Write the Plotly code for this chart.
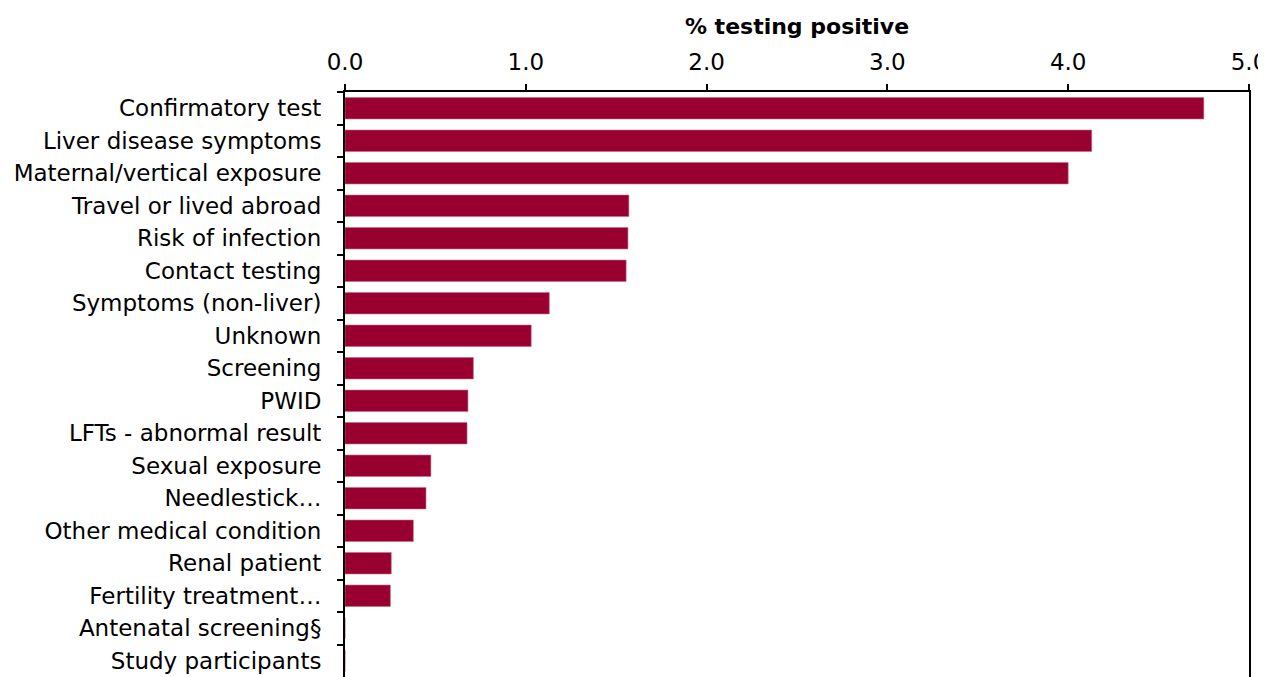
import plotly.graph_objects as go

categories = [
    "Confirmatory test", "Liver disease symptoms", "Maternal/vertical exposure",
    "Travel or lived abroad", "Risk of infection", "Contact testing",
    "Symptoms (non-liver)", "Unknown", "Screening", "PWID",
    "LFTs - abnormal result", "Sexual exposure", "Needlestick…",
    "Other medical condition", "Renal patient", "Fertility treatment…",
    "Antenatal screening§", "Study participants",
]
pct_positive = [4.75, 4.13, 4.00, 1.57, 1.565, 1.555, 1.13, 1.03, 0.71, 0.68,
                0.675, 0.475, 0.448, 0.378, 0.256, 0.251, 0.0, 0.0]
x_ticks = [0, 1, 2, 3, 4, 5]

FONT = "DejaVu Sans, Verdana, sans-serif"

fig = go.Figure(go.Bar(
    x=pct_positive, y=categories, orientation="h",
    marker=dict(color="#990030", line=dict(color="#c46a86", width=0.6)),
))

# page body has an 8px default margin; compensate so plot lands where the reference has it
fig.update_layout(
    width=1258, height=669,
    margin=dict(l=337, r=17, t=84, b=0),
    paper_bgcolor="white", plot_bgcolor="white",
    font=dict(family=FONT, size=23, color="#000000"),
    bargap=0.34,
    showlegend=False,
)
fig.update_xaxes(
    side="top", range=[0, 5], tickvals=x_ticks, tickformat=".1f",
    showgrid=False, zeroline=False,
    showline=True, linecolor="black", linewidth=2, mirror=False,
    ticks="outside", ticklen=6, tickwidth=2, tickcolor="black",
    ticklabelstandoff=5, ticklabeloverflow="allow",
    tickfont=dict(size=23),
    title=dict(text="<b>% testing positive</b>", font=dict(size=22), standoff=8),
)
fig.update_yaxes(
    autorange="reversed", tickson="boundaries",
    showgrid=False, zeroline=False,
    showline=True, linecolor="black", linewidth=2, mirror=True,
    ticks="outside", ticklen=6, tickwidth=2, tickcolor="black",
    ticklabelstandoff=17,
    tickfont=dict(size=23),
)

fig.write_html("out.html")
